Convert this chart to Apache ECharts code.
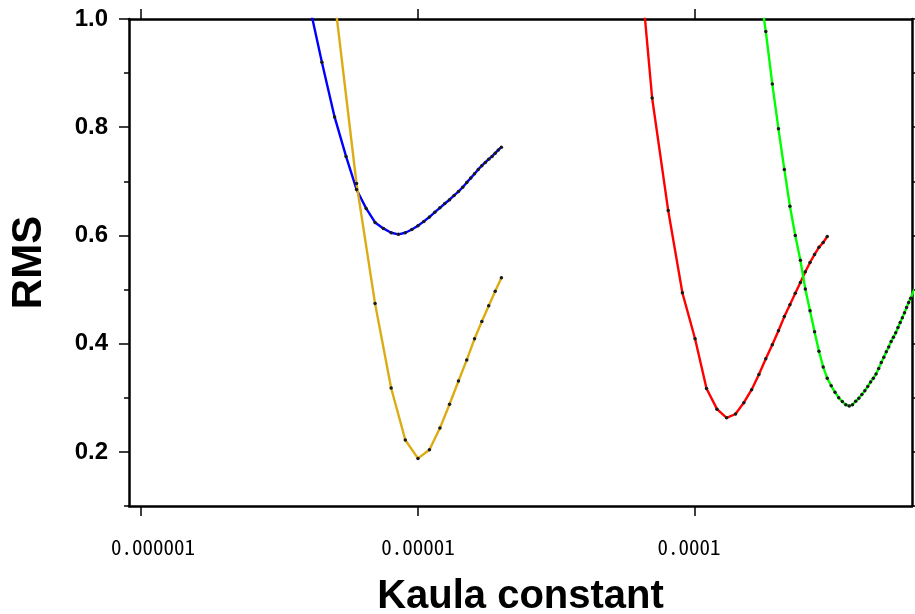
<!DOCTYPE html>
<html>
<head>
<meta charset="utf-8">
<script src="https://cdn.jsdelivr.net/npm/echarts@6/dist/echarts.min.js"></script>
<style>
  html, body { margin: 0; padding: 0; background: #ffffff; }
  #chart { width: 915px; height: 614px; }
</style>
</head>
<body>
<div id="chart"></div>
<script>
// RMS misfit against the Kaula regularisation constant, one curve per run.
const kaulaBlue = [4.0e-6, 4.5e-6, 5.0e-6, 5.5e-6, 6.0e-6, 6.5e-6, 7.0e-6, 7.5e-6, 8.0e-6, 8.5e-6,
  9.0e-6, 9.5e-6, 1.0e-5, 1.05e-5, 1.1e-5, 1.15e-5, 1.2e-5, 1.25e-5, 1.3e-5, 1.35e-5,
  1.4e-5, 1.45e-5, 1.5e-5, 1.55e-5, 1.6e-5, 1.65e-5, 1.7e-5, 1.75e-5, 1.8e-5, 1.85e-5,
  1.9e-5, 1.95e-5, 2.0e-5];
const rmsBlue = [1.04, 0.920, 0.819, 0.746, 0.685, 0.650, 0.624, 0.613, 0.605, 0.602,
  0.605, 0.611, 0.618, 0.626, 0.634, 0.643, 0.651, 0.659, 0.666, 0.674,
  0.681, 0.689, 0.698, 0.706, 0.714, 0.722, 0.729, 0.735, 0.741, 0.746,
  0.752, 0.758, 0.763];

const kaulaGold = [5e-6, 6e-6, 7e-6, 8e-6, 9e-6, 1.0e-5, 1.1e-5, 1.2e-5, 1.3e-5, 1.4e-5,
  1.5e-5, 1.6e-5, 1.7e-5, 1.8e-5, 1.9e-5, 2.0e-5];
const rmsGold = [1.037, 0.696, 0.474, 0.318, 0.222, 0.188, 0.204, 0.244, 0.288, 0.331,
  0.370, 0.409, 0.441, 0.470, 0.497, 0.522];

const kaulaRed = [6e-5, 7e-5, 8e-5, 9e-5, 1.0e-4, 1.1e-4, 1.2e-4, 1.3e-4, 1.4e-4, 1.5e-4,
  1.6e-4, 1.7e-4, 1.8e-4, 1.9e-4, 2.0e-4, 2.1e-4, 2.2e-4, 2.3e-4, 2.4e-4, 2.5e-4,
  2.6e-4, 2.7e-4, 2.8e-4, 2.9e-4, 3.0e-4];
const rmsRed = [1.235, 0.854, 0.646, 0.494, 0.409, 0.317, 0.279, 0.263, 0.270, 0.291,
  0.315, 0.343, 0.372, 0.398, 0.424, 0.450, 0.472, 0.493, 0.513, 0.533,
  0.550, 0.565, 0.578, 0.587, 0.598];

const kaulaGreen = [1.7e-4, 1.8e-4, 1.9e-4, 2.0e-4, 2.1e-4, 2.2e-4, 2.3e-4, 2.4e-4, 2.5e-4, 2.6e-4,
  2.7e-4, 2.8e-4, 2.9e-4, 3.0e-4, 3.1e-4, 3.2e-4, 3.3e-4, 3.4e-4, 3.5e-4, 3.6e-4,
  3.7e-4, 3.8e-4, 3.9e-4, 4.0e-4, 4.1e-4, 4.2e-4, 4.3e-4, 4.4e-4, 4.5e-4, 4.6e-4,
  4.7e-4, 4.8e-4, 4.9e-4, 5.0e-4, 5.1e-4, 5.2e-4, 5.3e-4, 5.4e-4, 5.5e-4, 5.6e-4,
  5.7e-4, 5.8e-4, 5.9e-4, 6.0e-4, 6.1e-4, 6.2e-4];
const rmsGreen = [1.066, 0.977, 0.880, 0.797, 0.722, 0.654, 0.600, 0.554, 0.501, 0.461,
  0.422, 0.386, 0.357, 0.336, 0.322, 0.310, 0.300, 0.293, 0.287, 0.285,
  0.287, 0.2935, 0.299, 0.306, 0.313, 0.321, 0.329, 0.336, 0.344, 0.354,
  0.365, 0.375, 0.385, 0.394, 0.404, 0.412, 0.420, 0.430, 0.439, 0.448,
  0.457, 0.467, 0.476, 0.484, 0.493, 0.501];

// Axis ticks and their labels
const kaulaTicks = [1e-6, 1e-5, 1e-4];
const kaulaTickLabels = ['0.000001', '0.00001', '0.0001'];
const rmsMajorTicks = [0.2, 0.4, 0.6, 0.8, 1.0];
const rmsMinorTicks = [0.1, 0.3, 0.5, 0.7, 0.9];

const kaulaMin = Math.pow(10, -6.043);
const kaulaMax = Math.pow(10, -3.217);
const rmsMin = 0.1;
const rmsMax = 1.0;

const FONT = '"Liberation Sans", Arial, Helvetica, sans-serif';
const MONO = '"Noto Sans Mono CJK JP", "Noto Sans CJK JP", "DejaVu Sans Mono", monospace';
const frame = { show: true, lineStyle: { color: '#000', width: 2.5 } };

function pairs(xs, ys) {
  return xs.map((x, i) => [x, ys[i]]);
}

function curve(name, xs, ys, color) {
  return {
    name: name,
    type: 'line',
    xAxisIndex: 0,
    yAxisIndex: 0,
    data: pairs(xs, ys),
    showSymbol: true,
    symbol: 'circle',
    symbolSize: 3.5,
    itemStyle: { color: '#1a1a1a' },
    lineStyle: { color: color, width: 2.4 },
    emphasis: { disabled: true },
    silent: true,
    clip: true,
    z: 3
  };
}

// decade label styles; the left padding / right padding nudge each label sideways
const decadeStyle = { fontFamily: MONO, fontSize: 21, color: '#000' };
const decadeRich = {
  d0: Object.assign({ padding: [0, 0, 0, 24] }, decadeStyle),
  d1: Object.assign({ padding: [0, 0, 0, 0] }, decadeStyle),
  d2: Object.assign({ padding: [0, 12, 0, 0] }, decadeStyle)
};

const chart = echarts.init(document.getElementById('chart'), null, { renderer: 'canvas' });

chart.setOption({
  animation: false,
  backgroundColor: '#ffffff',
  grid: { left: 129, top: 19, width: 783, height: 487, containLabel: false, outerBoundsMode: 'none' },
  xAxis: [
    {
      type: 'log', logBase: 10, position: 'bottom',
      min: kaulaMin, max: kaulaMax,
      axisLine: frame,
      axisTick: { show: true, inside: false, length: 10, customValues: kaulaTicks,
        lineStyle: { color: '#000', width: 1.5 } },
      axisLabel: {
        show: true, customValues: kaulaTicks, margin: 31,
        formatter: function (v) {
          const i = Math.round(Math.log10(v)) + 6;
          const t = kaulaTickLabels[i];
          return t ? '{d' + i + '|' + t + '}' : '';
        },
        rich: decadeRich
      },
      splitLine: { show: false },
      minorTick: { show: false },
      name: 'Kaula constant',
      nameLocation: 'middle',
      nameGap: 71,
      nameTextStyle: { fontFamily: FONT, fontSize: 40, fontWeight: 'bold', color: '#000' }
    },
    {
      type: 'log', logBase: 10, position: 'top',
      min: kaulaMin, max: kaulaMax,
      axisLine: frame,
      axisTick: { show: true, inside: false, length: 10, customValues: kaulaTicks,
        lineStyle: { color: '#000', width: 1.5 } },
      axisLabel: { show: false },
      splitLine: { show: false }
    }
  ],
  yAxis: [
    {
      type: 'value', position: 'left',
      min: rmsMin, max: rmsMax,
      axisLine: frame,
      axisTick: { show: true, inside: false, length: 10, customValues: rmsMajorTicks,
        lineStyle: { color: '#000', width: 1.5 } },
      axisLabel: {
        show: true, customValues: rmsMajorTicks, margin: 21,
        formatter: v => v.toFixed(1),
        fontFamily: FONT, fontSize: 24, fontWeight: 'bold', color: '#000'
      },
      splitLine: { show: false },
      name: 'RMS',
      nameLocation: 'middle',
      nameGap: 79,
      nameRotate: 90,
      nameTextStyle: { fontFamily: FONT, fontSize: 42, fontWeight: 'bold', color: '#000' }
    },
    {
      type: 'value', position: 'left',
      min: rmsMin, max: rmsMax,
      axisLine: { show: false },
      axisTick: { show: true, inside: false, length: 5, customValues: rmsMinorTicks,
        lineStyle: { color: '#000', width: 1.5 } },
      axisLabel: { show: false },
      splitLine: { show: false }
    },
    {
      type: 'value', position: 'right',
      min: rmsMin, max: rmsMax,
      axisLine: frame,
      axisTick: { show: true, inside: false, length: 10, customValues: rmsMajorTicks,
        lineStyle: { color: '#000', width: 1.5 } },
      axisLabel: { show: false },
      splitLine: { show: false }
    },
    {
      type: 'value', position: 'right',
      min: rmsMin, max: rmsMax,
      axisLine: { show: false },
      axisTick: { show: true, inside: false, length: 5, customValues: rmsMinorTicks,
        lineStyle: { color: '#000', width: 1.5 } },
      axisLabel: { show: false },
      splitLine: { show: false }
    }
  ],
  series: [
    curve('run A', kaulaBlue, rmsBlue, '#0000ff'),
    curve('run B', kaulaGold, rmsGold, '#dcac14'),
    curve('run C', kaulaRed, rmsRed, '#ff0000'),
    curve('run D', kaulaGreen, rmsGreen, '#00ff00')
  ]
});
</script>
</body>
</html>
